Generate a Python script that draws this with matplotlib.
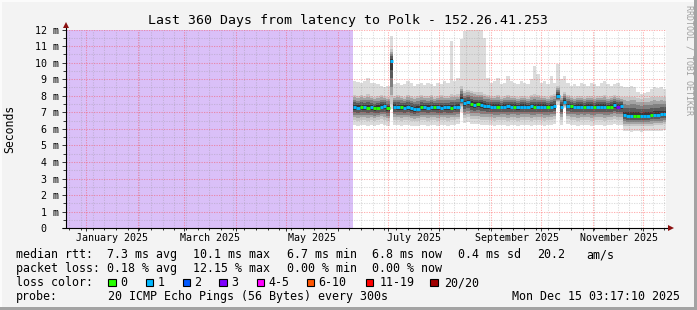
import numpy as np
import matplotlib.pyplot as plt
from matplotlib.patches import Rectangle
from datetime import datetime, timedelta

# time window: last 360 days, ending at graph time
t_end = datetime(2025, 12, 15, 3, 17, 10)
t_start = t_end - timedelta(days=360)

# data exists from day 172 onwards, one value per 2 days (ms)
data_start = 172.0
bin_days = 2.0

med = [7.30, 7.28, 7.32, 7.30, 7.28, 7.30, 7.25, 7.28, 7.35, 7.38, 7.25,
       10.1,
       7.35, 7.30, 7.32, 7.28, 7.30, 7.25, 7.20, 7.22, 7.30, 7.30,
       7.28, 7.30, 7.32, 7.30, 7.28, 7.30, 7.30, 7.28, 7.30, 7.32,
       7.76,
       7.55, 7.60, 7.50, 7.45, 7.48, 7.45, 7.40,
       7.38, 7.35, 7.35, 7.33, 7.35, 7.35, 7.36, 7.35, 7.35, 7.33, 7.35,
       7.35, 7.35, 7.36, 7.33, 7.35, 7.35, 7.35, 7.34, 7.35, 7.38,
       7.96, 7.35, 7.65,
       7.40, 7.36, 7.35, 7.35, 7.35, 7.33, 7.35, 7.35, 7.34, 7.35, 7.35,
       7.35, 7.33, 7.35, 7.45, 7.35, 7.36,
       6.82, 6.80, 6.78, 6.80, 6.80, 6.78, 6.80, 6.80, 6.82, 6.84, 6.86,
       6.88, 6.90]

loss = [1, 1, 0, 1, 0, 1, 0, 0, 1, 1, 0,
        1,
        1, 1, 0, 1, 1, 1, 1, 1, 0, 1, 1, 1, 0, 1, 1, 1, 1, 0, 1, 1,
        1,
        1, 1, 0, 1, 0, 1, 1,
        1, 1, 1, 0, 1, 1, 1, 1, 0, 1, 1, 1, 1, 1, 0, 1, 1, 1, 0, 1, 1,
        1, 1, 1,
        1, 0, 1, 1, 1, 0, 1, 1, 0, 1, 1, 1, 0, 0, 1, 3, 1,
        1, 1, 1, 0, 0, 1, 1, 1, 0, 1, 1, 1, 1]

top = [8.90, 8.85, 8.80, 8.90, 9.05, 8.75, 8.80, 8.70, 8.60, 8.55, 8.60,
       11.6,
       8.70, 8.80, 8.65, 8.70, 8.90, 8.80, 8.60, 8.70, 8.75, 8.65,
       8.80, 8.70, 8.60, 8.80, 8.70, 8.90, 8.75, 11.3, 8.90, 9.10,
       11.4,
       11.9, 12.3, 12.3, 12.3, 12.3, 12.3, 11.5,
       9.10, 8.80, 8.90, 9.10, 8.70, 8.80, 9.20, 8.90, 8.80, 8.70, 8.90,
       8.80, 8.70, 9.00, 9.80, 9.30, 8.80, 8.90, 8.70, 9.20, 8.80,
       9.90, 9.00, 9.20,
       8.80, 8.60, 8.70, 8.60, 8.80, 8.70, 8.60, 8.80, 8.70, 8.60, 8.80,
       8.90, 8.70, 8.60, 8.70, 8.80, 8.60,
       8.55, 8.50, 8.60, 8.55, 8.20, 8.10, 8.15, 8.20, 8.40, 8.50, 8.45,
       8.55, 8.40]

hi = [8.05, 8.00, 8.05, 8.00, 8.10, 8.00, 7.95, 8.00, 8.05, 8.00, 7.95,
      10.8,
      8.00, 8.05, 8.00, 7.95, 8.05, 8.00, 7.95, 8.00, 8.05, 8.00,
      8.00, 8.05, 7.95, 8.00, 8.05, 8.00, 8.00, 8.10, 8.05, 8.10,
      8.60,
      8.30, 8.35, 8.30, 8.25, 8.20, 8.20, 8.10,
      8.05, 8.00, 8.00, 8.05, 7.95, 8.00, 8.05, 8.00, 8.00, 7.95, 8.00,
      8.00, 7.95, 8.05, 8.10, 8.05, 8.00, 8.00, 7.95, 8.05, 8.10,
      8.60, 8.00, 8.20,
      8.05, 8.00, 7.95, 8.00, 8.00, 7.95, 8.00, 8.00, 7.95, 8.00, 8.00,
      8.05, 7.95, 8.00, 8.05, 8.00, 7.95,
      7.95, 7.90, 7.95, 7.95, 7.85, 7.80, 7.85, 7.85, 7.90, 7.95, 7.90,
      7.95, 7.90]

lo = [6.55, 6.50, 6.55, 6.55, 6.50, 6.55, 6.50, 6.55, 6.60, 6.55, 6.50,
      7.50,
      6.55, 6.55, 6.50, 6.55, 6.55, 6.50, 6.45, 6.50, 6.55, 6.55,
      6.50, 6.55, 6.55, 6.50, 6.55, 6.55, 6.50, 6.55, 6.55, 6.60,
      7.30,
      6.65, 6.70, 6.60, 6.60, 6.60, 6.55, 6.55,
      6.55, 6.55, 6.50, 6.55, 6.55, 6.55, 6.50, 6.55, 6.55, 6.50, 6.55,
      6.55, 6.55, 6.50, 6.55, 6.55, 6.55, 6.50, 6.55, 6.55, 6.60,
      7.60, 6.55, 7.35,
      6.60, 6.55, 6.55, 6.50, 6.55, 6.55, 6.55, 6.50, 6.55, 6.55, 6.55,
      6.50, 6.55, 6.55, 6.60, 6.55, 6.55,
      6.20, 6.20, 6.15, 6.20, 6.20, 6.15, 6.20, 6.20, 6.20, 6.25, 6.25,
      6.25, 6.30]

bot = [6.25, 6.20, 6.25, 6.25, 6.20, 6.25, 6.20, 6.25, 6.30, 6.25, 6.20,
       7.20,
       6.25, 6.25, 6.20, 6.25, 6.25, 6.20, 6.15, 6.20, 6.25, 6.25,
       6.20, 6.25, 6.25, 6.20, 6.25, 6.25, 6.20, 6.25, 6.25, 6.30,
       7.00,
       6.35, 6.40, 6.30, 6.30, 6.30, 6.25, 6.25,
       6.25, 6.25, 6.20, 6.25, 6.25, 6.25, 6.20, 6.25, 6.25, 6.20, 6.25,
       6.25, 6.25, 6.20, 6.25, 6.25, 6.25, 6.20, 6.25, 6.25, 6.30,
       7.45, 6.25, 7.27,
       6.30, 6.25, 6.25, 6.20, 6.25, 6.25, 6.25, 6.20, 6.25, 6.25, 6.25,
       6.20, 6.25, 6.25, 6.30, 6.25, 6.25,
       5.85, 5.85, 5.80, 5.85, 5.85, 5.80, 5.85, 5.85, 5.85, 5.90, 5.90,
       5.90, 5.95]

loss_colors = {0: '#26ff00', 1: '#00b8ff', 2: '#0059ff', 3: '#7e00ff',
               4: '#ff00ff', 6: '#ff5500', 11: '#ff0000', 20: '#a00000'}
legend_keys = [0, 1, 2, 3, 4, 6, 11, 20]
legend_names = ['0', '1', '2', '3', '4-5', '6-10', '11-19', '20/20']

month_labels = ['January 2025', 'March 2025', 'May 2025', 'July 2025',
                'September 2025', 'November 2025']
y_labels = ['0  '] + ['%d m' % v for v in range(1, 13)]

stats_rtt = ['median rtt:', '7.3 ms avg', '10.1 ms max', '6.7 ms min',
             '6.8 ms now', '0.4 ms sd', '20.2', 'am/s']
stats_loss = ['packet loss:', '0.18 % avg', '12.15 % max', '0.00 % min',
              '0.00 % now']

W, H = 697, 310
MONO = 'DejaVu Sans Mono'
plt.rcParams['font.family'] = MONO


def fx(x):
    return x / W


def fy(y):
    return 1 - y / H


def days(t):
    return (t - t_start).total_seconds() / 86400.0


fig = plt.figure(figsize=(W / 100, H / 100), dpi=100, facecolor='#f3f3f3')
# 3d-ish frame
fig.patches.append(Rectangle((fx(694), 0), fx(3), 1, transform=fig.transFigure,
                             color='#a3a3a3', lw=0))
fig.patches.append(Rectangle((0, 0), 1, 3 / H, transform=fig.transFigure,
                             color='#a3a3a3', lw=0))
fig.patches.append(Rectangle((0, fy(2)), fx(694), 2 / H, transform=fig.transFigure,
                             color='#fbfbfb', lw=0))
fig.patches.append(Rectangle((0, 3 / H), fx(2), 1, transform=fig.transFigure,
                             color='#fbfbfb', lw=0))

x0, x1 = 66.3, 666.3
y0, y1 = 29.5, 228.3
ax = fig.add_axes([fx(x0), fy(y1), fx(x1 - x0), (y1 - y0) / H])
ax.set_facecolor('white')
ax.set_xlim(0, 360)
ax.set_ylim(0, 12)
for s in ax.spines.values():
    s.set_visible(False)

# unknown (no data) period
ax.axvspan(0, data_start, color='#dac0f8', lw=0, zorder=1)

# smoke
med_a, top_a, hi_a = np.array(med), np.array(top), np.array(hi)
lo_a, bot_a = np.array(lo), np.array(bot)
n = len(med)
edges = data_start + bin_days * np.arange(n + 1)


def ext(a):
    return np.append(a, a[-1])


ax.fill_between(edges, ext(bot_a), ext(top_a), step='post', color='#dcdcdc',
                lw=0, zorder=1.2)
shades = [(1.0, '#c6c6c6'), (0.8, '#a4a4a4'), (0.6, '#808080'),
          (0.4, '#5a5a5a'), (0.2, '#383838')]
for k, (f, c) in enumerate(shades):
    ax.fill_between(edges, ext(med_a - f * (med_a - lo_a)),
                    ext(med_a + f * (hi_a - med_a)), step='post', color=c,
                    lw=0, zorder=1.3 + 0.05 * k)

# median, coloured by loss
ax.hlines(med_a, edges[:-1], edges[1:], colors=[loss_colors[v] for v in loss],
          lw=2.1, zorder=4)

# grid / ticks
month_starts = [days(datetime(2025, m, 1)) for m in range(1, 13)]
sundays = []
d = datetime(2024, 12, 22)
while d < t_end:
    if d > t_start:
        sundays.append(days(d))
    d += timedelta(days=7)
ax.set_xticks(month_starts)
ax.set_xticks(sundays, minor=True)
ax.set_xticklabels([])
ax.set_yticks(range(13), y_labels)
ax.set_yticks(np.arange(0.5, 12, 1.0), minor=True)
ax.set_axisbelow(False)
ax.grid(True, which='major', color='#ff3030', alpha=0.38, lw=0.75,
        ls=(0, (1.2, 1.2)))
ax.grid(True, which='minor', color='#909090', alpha=0.3, lw=0.75,
        ls=(0, (1.2, 1.2)))
ax.tick_params(axis='y', which='major', length=3, width=0.7, pad=2.2,
               labelsize=7.2, color='#333333')
ax.tick_params(axis='y', which='minor', length=2, width=0.7, color='#333333')
ax.tick_params(axis='x', which='major', length=2.5, width=0.7, color='#333333')
ax.tick_params(axis='x', which='minor', length=1.5, width=0.7, color='#333333')

for m, lab in zip([1, 3, 5, 7, 9, 11], month_labels):
    xm = days(datetime(2025, m, 1)) + 15.5
    ax.text(xm, -(241 - y1) / (y1 - y0), lab, transform=ax.get_xaxis_transform(),
            ha='center', va='baseline', fontsize=7.2)

# axis lines with arrows
ax.plot([0, 0], [0, 1 + 4 / (y1 - y0)], transform=ax.transAxes, color='black',
        lw=0.8, clip_on=False, zorder=5, solid_capstyle='butt')
ax.plot([-4 / 600, 1 + 2 / 600], [0, 0], transform=ax.transAxes, color='black',
        lw=0.8, clip_on=False, zorder=5, solid_capstyle='butt')
ax.plot([0], [1 + 5 / (y1 - y0)], marker='^', ms=4.2, color='#8b1010',
        transform=ax.transAxes, clip_on=False, zorder=6, mew=0)
ax.plot([1 + 4.5 / 600], [0], marker='>', ms=4.2, color='#8b1010',
        transform=ax.transAxes, clip_on=False, zorder=6, mew=0)

# titles
fig.text(fx(348), fy(24), 'Last 360 Days from latency to Polk - 152.26.41.253',
         ha='center', va='baseline', fontsize=9.5)
fig.text(fx(10), fy(129), 'Seconds', rotation=90, ha='center', va='center',
         fontsize=8.3)
fig.text(fx(688.5), fy(5), 'RRDTOOL / TOBI OETIKER', rotation=-90,
         rotation_mode='anchor', ha='left', va='center', fontsize=6,
         color='#a0a0a0')

# legend
LS = 8.35
rtt_x = [16, 107.3, 192.7, 286.7, 372.3, 458.3, 537.3, 586]
for s, xx in zip(stats_rtt, rtt_x):
    fig.text(fx(xx), fy(258.3), s, ha='left', va='baseline', fontsize=LS)
loss_x = [16, 107.3, 192.7, 286.7, 372.3]
for s, xx in zip(stats_loss, loss_x):
    fig.text(fx(xx), fy(272.3), s, ha='left', va='baseline', fontsize=LS)

fig.text(fx(16), fy(286), 'loss color:', ha='left', va='baseline', fontsize=LS)
box_x = [108.3, 145.7, 182.7, 219.3, 256.7, 306.7, 365.7, 430]
lab_x = [120.7, 157.3, 194.3, 231, 268, 318, 379.5, 444.5]
for k, name, bx, lx in zip(legend_keys, legend_names, box_x, lab_x):
    fig.patches.append(Rectangle((fx(bx), fy(286)), fx(7.5), 7.5 / H,
                                 transform=fig.transFigure,
                                 facecolor=loss_colors[k], edgecolor='black',
                                 lw=0.8))
    fig.text(fx(lx), fy(286), name, ha='left', va='baseline', fontsize=LS)

fig.text(fx(16), fy(300), 'probe:', ha='left', va='baseline', fontsize=LS)
fig.text(fx(107.7), fy(300), '20 ICMP Echo Pings (56 Bytes) every 300s',
         ha='left', va='baseline', fontsize=LS)
fig.text(fx(680), fy(300), 'Mon Dec 15 03:17:10 2025', ha='right',
         va='baseline', fontsize=LS)

fig.savefig('out.png', dpi=100, facecolor=fig.get_facecolor())
